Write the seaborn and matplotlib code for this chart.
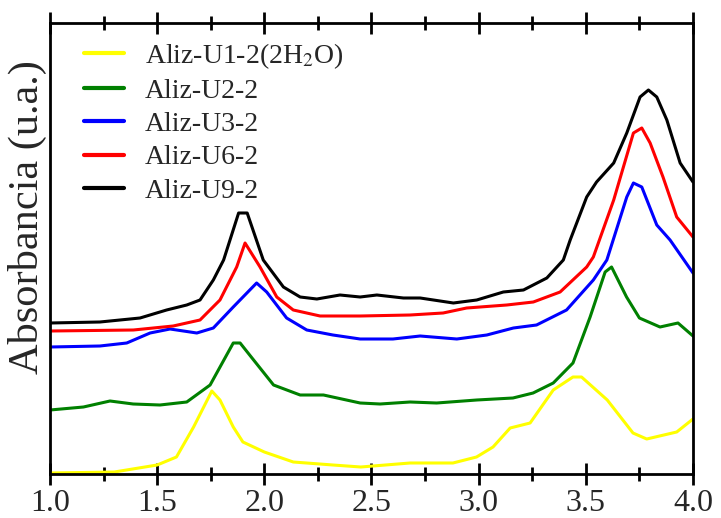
import matplotlib
matplotlib.use("Agg")
import matplotlib.pyplot as plt
import seaborn as sns
import pandas as pd
from matplotlib.ticker import MultipleLocator, NullLocator

# Absorption spectra (energy axis, arbitrary absorbance units)
labels = ["Aliz-U1-2(2H$_2$O)", "Aliz-U2-2", "Aliz-U3-2", "Aliz-U6-2", "Aliz-U9-2"]
colors = ["#ffff00", "#008000", "#0000ff", "#ff0000", "#000000"]

x_u1 = [1.0, 1.30, 1.50, 1.59, 1.67, 1.755, 1.793, 1.855, 1.90, 2.00, 2.135, 2.32, 2.45,
        2.68, 2.88, 2.99, 3.067, 3.147, 3.24, 3.348, 3.44, 3.48, 3.60, 3.72, 3.784, 3.924, 4.0]
y_u1 = [0.01, 0.02, 0.09, 0.17, 0.47, 0.83, 0.74, 0.47, 0.32, 0.22, 0.12, 0.09, 0.07,
        0.11, 0.11, 0.17, 0.27, 0.46, 0.51, 0.84, 0.97, 0.97, 0.74, 0.41, 0.35, 0.42, 0.55]

x_u2 = [1.0, 1.156, 1.28, 1.388, 1.513, 1.638, 1.747, 1.855, 1.887, 1.95, 2.043, 2.167, 2.276,
        2.447, 2.54, 2.68, 2.804, 2.991, 3.16, 3.254, 3.348, 3.44, 3.52, 3.59, 3.62, 3.69,
        3.75, 3.846, 3.93, 4.0]
y_u2 = [0.64, 0.67, 0.73, 0.70, 0.69, 0.72, 0.89, 1.31, 1.31, 1.14, 0.89, 0.79, 0.79,
        0.71, 0.70, 0.72, 0.71, 0.74, 0.76, 0.81, 0.91, 1.11, 1.57, 2.02, 2.07, 1.77,
        1.56, 1.47, 1.51, 1.38]

x_u3 = [1.0, 1.233, 1.358, 1.467, 1.56, 1.685, 1.762, 1.855, 1.964, 2.011, 2.104, 2.198, 2.32,
        2.447, 2.60, 2.727, 2.898, 3.038, 3.162, 3.27, 3.41, 3.535, 3.598, 3.691, 3.722,
        3.761, 3.831, 3.893, 4.0]
y_u3 = [1.27, 1.28, 1.31, 1.41, 1.45, 1.41, 1.46, 1.67, 1.91, 1.82, 1.56, 1.44, 1.39,
        1.35, 1.35, 1.38, 1.35, 1.39, 1.46, 1.49, 1.64, 1.94, 2.14, 2.77, 2.91,
        2.87, 2.49, 2.34, 2.01]

x_u6 = [1.0, 1.389, 1.575, 1.70, 1.793, 1.871, 1.91, 1.98, 2.058, 2.135, 2.26, 2.447, 2.68,
        2.834, 2.944, 3.131, 3.255, 3.38, 3.504, 3.535, 3.63, 3.722, 3.761, 3.80, 3.86,
        3.924, 4.0]
y_u6 = [1.43, 1.44, 1.48, 1.54, 1.74, 2.07, 2.31, 2.07, 1.77, 1.64, 1.58, 1.58, 1.59,
        1.61, 1.66, 1.69, 1.72, 1.82, 2.07, 2.17, 2.74, 3.41, 3.46, 3.31, 2.97,
        2.57, 2.37]

x_u9 = [1.0, 1.233, 1.42, 1.544, 1.638, 1.70, 1.762, 1.81, 1.88, 1.92, 1.995, 2.089, 2.167,
        2.245, 2.353, 2.447, 2.525, 2.649, 2.727, 2.882, 2.991, 3.115, 3.209, 3.318, 3.395,
        3.427, 3.504, 3.55, 3.63, 3.691, 3.753, 3.792, 3.831, 3.878, 3.94, 4.0]
y_u9 = [1.51, 1.52, 1.56, 1.64, 1.69, 1.74, 1.94, 2.14, 2.61, 2.61, 2.14, 1.87, 1.77,
        1.75, 1.79, 1.77, 1.79, 1.76, 1.76, 1.71, 1.74, 1.82, 1.84, 1.96, 2.14,
        2.34, 2.77, 2.92, 3.11, 3.41, 3.77, 3.84, 3.77, 3.54, 3.11, 2.92]

x_ticks = [1.0, 1.5, 2.0, 2.5, 3.0, 3.5, 4.0]
y_label_text = "Absorbancia (u.a.)"

series = [(x_u1, y_u1), (x_u2, y_u2), (x_u3, y_u3), (x_u6, y_u6), (x_u9, y_u9)]
frames = []
for name, (xs, ys) in zip(labels, series):
    frames.append(pd.DataFrame({"E": xs, "A": ys, "muestra": name}))
df = pd.concat(frames, ignore_index=True)

sns.set_style("ticks")
plt.rcParams["font.family"] = ["Liberation Serif", "DejaVu Serif"]
plt.rcParams["mathtext.fontset"] = "stix"

fig = plt.figure(figsize=(7.21, 5.18), dpi=100)
ax = fig.add_axes([50 / 721, 1 - 474 / 518, 643 / 721, 451 / 518])

sns.lineplot(data=df, x="E", y="A", hue="muestra", hue_order=labels,
             palette=colors, linewidth=2.2, ax=ax, sort=False, estimator=None)
for ln in ax.get_lines():
    ln.set_solid_joinstyle("round")

ax.set_xlim(1.0, 4.0)
ax.set_ylim(0, 4.51)
ax.set_xticks(x_ticks)
ax.set_xticklabels([f"{t:.1f}" for t in x_ticks])
ax.xaxis.set_minor_locator(MultipleLocator(0.25))
ax.yaxis.set_major_locator(NullLocator())
ax.set_xlabel("")
ax.set_ylabel(y_label_text, fontsize=30.5)
ax.yaxis.set_label_coords(-0.004, 0.57)

for s in ax.spines.values():
    s.set_linewidth(2.0)
    s.set_color("black")

ax.tick_params(axis="x", which="major", direction="inout", length=16, width=2,
               top=True, bottom=True, labelsize=23, pad=3, color="black")
ax.tick_params(axis="x", which="minor", direction="inout", length=10, width=2,
               top=True, bottom=True, color="black")

leg = ax.legend(loc="upper left", bbox_to_anchor=(0.035, 0.985), frameon=False,
                fontsize=20, handlelength=1.45, handletextpad=0.75,
                labelspacing=0.28, borderaxespad=0.0)
for h in leg.get_lines():
    h.set_linewidth(3)

fig.savefig("out.png", dpi=100)
